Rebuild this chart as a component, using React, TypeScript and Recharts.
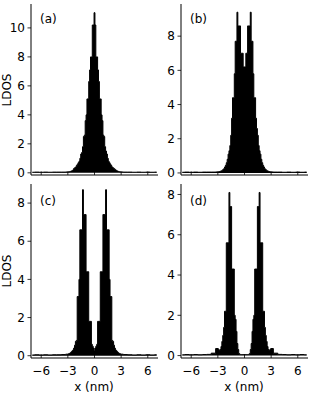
import React from 'react';
import { AreaChart, Area, XAxis, YAxis } from 'recharts';

// x positions (nm)
const X_NM = [
  -7.0, -6.5, -6.0, -5.5, -5.0, -4.5, -4.0, -3.5,
  -3.0, -2.9, -2.8, -2.7, -2.6, -2.5, -2.4, -2.3, -2.2, -2.1,
  -2.0, -1.9, -1.8, -1.7, -1.6, -1.5, -1.4, -1.3, -1.2, -1.1,
  -1.0, -0.9, -0.8, -0.7, -0.6, -0.5, -0.4, -0.3, -0.2, -0.1,
  0.0,
  0.1, 0.2, 0.3, 0.4, 0.5, 0.6, 0.7, 0.8, 0.9, 1.0,
  1.1, 1.2, 1.3, 1.4, 1.5, 1.6, 1.7, 1.8, 1.9, 2.0,
  2.1, 2.2, 2.3, 2.4, 2.5, 2.6, 2.7, 2.8, 2.9, 3.0,
  3.5, 4.0, 4.5, 5.0, 5.5, 6.0, 6.5, 7.0,
];

const LDOS_A = [
  0.04, 0.05, 0.04, 0.05, 0.04, 0.05, 0.05, 0.05,
  0.06, 0.07, 0.08, 0.1, 0.12, 0.15, 0.2, 0.3, 0.35, 0.4,
  0.5, 0.6, 0.7, 0.8, 1.0, 1.3, 1.4, 1.8, 2.5, 2.6,
  3.6, 4.0, 5.1, 5.1, 6.3, 7.1, 8.0, 8.0, 10.2, 10.2,
  11.05,
  10.2, 8.0, 8.0, 7.1, 6.3, 5.1, 5.1, 4.0, 3.6, 2.6,
  2.5, 1.8, 1.5, 1.3, 1.0, 0.8, 0.7, 0.6, 0.5, 0.4,
  0.35, 0.3, 0.25, 0.2, 0.15, 0.12, 0.1, 0.08, 0.07, 0.06,
  0.05, 0.05, 0.04, 0.05, 0.04, 0.05, 0.04, 0.05,
];

const LDOS_B = [
  0.04, 0.05, 0.04, 0.05, 0.04, 0.05, 0.05, 0.05,
  0.06, 0.07, 0.08, 0.1, 0.12, 0.15, 0.2, 0.25, 0.35, 0.45,
  0.6, 0.8, 1.1, 1.3, 1.6, 2.2, 3.2, 4.4, 4.4, 5.8,
  7.7, 7.7, 9.4, 8.6, 8.6, 8.6, 7.0, 7.0, 7.0, 6.2,
  6.2,
  6.2, 7.0, 7.0, 8.6, 8.6, 8.6, 9.4, 7.7, 7.7, 5.8,
  4.4, 4.4, 3.2, 2.6, 2.2, 1.6, 1.3, 1.1, 0.8, 0.6,
  0.45, 0.35, 0.25, 0.2, 0.15, 0.12, 0.1, 0.08, 0.07, 0.06,
  0.05, 0.05, 0.04, 0.05, 0.04, 0.05, 0.04, 0.05,
];

const LDOS_C = [
  0.04, 0.05, 0.04, 0.05, 0.04, 0.05, 0.05, 0.06,
  0.08, 0.1, 0.12, 0.15, 0.2, 0.25, 0.3, 0.4, 0.55, 0.75,
  0.8, 3.1, 3.1, 4.0, 6.6, 6.6, 6.6, 8.7, 7.4, 7.4,
  7.4, 4.4, 4.4, 4.4, 1.8, 1.8, 1.8, 0.6, 0.5, 0.4,
  0.25,
  0.4, 0.5, 0.6, 1.8, 1.8, 1.8, 4.4, 4.4, 4.4, 7.4,
  7.4, 7.4, 8.7, 6.6, 6.6, 6.6, 4.0, 3.1, 3.1, 0.8,
  0.75, 0.55, 0.4, 0.3, 0.25, 0.2, 0.15, 0.12, 0.1, 0.08,
  0.06, 0.05, 0.04, 0.05, 0.04, 0.05, 0.04, 0.05,
];

const LDOS_D = [
  0.04, 0.05, 0.04, 0.05, 0.04, 0.05, 0.06, 0.12,
  0.35, 0.3, 0.25, 0.3, 0.45, 0.7, 1.0, 1.4, 2.2, 2.2,
  5.6, 5.6, 5.6, 8.1, 7.4, 7.4, 4.3, 4.3, 4.3, 2.0,
  1.8, 1.2, 0.6, 0.3, 0.1, 0.06, 0.05, 0.05, 0.05, 0.05,
  0.05,
  0.05, 0.05, 0.05, 0.05, 0.06, 0.1, 0.3, 0.6, 1.2, 1.8,
  2.0, 4.3, 4.3, 4.3, 7.4, 7.4, 8.1, 5.6, 5.6, 5.6,
  2.2, 2.2, 1.4, 1.0, 0.7, 0.45, 0.3, 0.25, 0.3, 0.35,
  0.12, 0.06, 0.05, 0.04, 0.05, 0.04, 0.05, 0.04,
];

const X_TICKS = [-6, -3, 0, 3, 6];
const Y_TICKS_A = [0, 2, 4, 6, 8, 10];
const Y_TICKS_BCD = [0, 2, 4, 6, 8];
const PANEL_LABELS = ['(a)', '(b)', '(c)', '(d)'];
const Y_LABEL = 'LDOS';
const X_LABEL = 'x (nm)';

const X_DOMAIN: [number, number] = [-7.15, 7.15];
const FONT = "'DejaVu Sans', sans-serif";
const FS = 12;

function fmt(v: number): string {
  return v < 0 ? '\u2212' + Math.abs(v) : String(v);
}

function makeXTick(showLabel: boolean) {
  return (props: any) => {
    const { x, y, payload } = props;
    return (
      <g>
        <line x1={x} x2={x} y1={y} y2={y - 3.5} stroke="#000" strokeWidth={0.8} />
        {showLabel ? (
          <text x={x} y={y + 17} textAnchor="middle" fontSize={FS} fontFamily={FONT} fill="#000">
            {fmt(payload.value)}
          </text>
        ) : null}
      </g>
    );
  };
}

type PanelProps = {
  values: number[];
  yMin: number;
  yMax: number;
  yTicks: number[];
  left: number;
  top: number;
  bottomRow: boolean;
};

function Panel({ values, yMin, yMax, yTicks, left, top, bottomRow }: PanelProps) {
  const data = X_NM.map((x, i) => ({ x, ldos: values[i] }));
  const plotH = bottomRow ? 174 : 171;
  const xAxisH = bottomRow ? 30 : 2;
  const marginBottom = bottomRow ? 0 : 10;
  const height = 4 + plotH + xAxisH + marginBottom;
  return (
    <div style={{ position: 'absolute', left, top }}>
      <AreaChart width={160} height={height} data={data} margin={{ top: 4, right: 2, bottom: marginBottom, left: 0 }}>
        <XAxis
          xAxisId="b"
          type="number"
          dataKey="x"
          domain={X_DOMAIN}
          ticks={X_TICKS}
          interval={0}
          allowDataOverflow
          height={xAxisH}
          tickLine={false}
          tickSize={0}
          tickMargin={0}
          axisLine={{ stroke: '#000', strokeWidth: 1 }}
          tick={makeXTick(bottomRow)}
        />
        <XAxis
          xAxisId="t"
          orientation="top"
          type="number"
          dataKey="x"
          domain={X_DOMAIN}
          allowDataOverflow
          height={0}
          tick={false}
          tickLine={false}
          axisLine={{ stroke: '#000', strokeWidth: 1 }}
        />
        <YAxis
          yAxisId="l"
          type="number"
          domain={[yMin, yMax]}
          ticks={yTicks}
          interval={0}
          allowDataOverflow
          width={31}
          tickSize={3.5}
          tickMargin={2.5}
          tick={{ fontSize: FS, fill: '#000', fontFamily: FONT }}
          tickLine={{ stroke: '#000', strokeWidth: 0.8 }}
          axisLine={{ stroke: '#000', strokeWidth: 1 }}
        />
        <YAxis
          yAxisId="r"
          orientation="right"
          type="number"
          domain={[yMin, yMax]}
          allowDataOverflow
          width={0}
          tick={false}
          tickLine={false}
          axisLine={{ stroke: '#000', strokeWidth: 1 }}
        />
        <Area
          xAxisId="b"
          yAxisId="l"
          type="step"
          dataKey="ldos"
          stroke="#000"
          strokeWidth={1}
          fill="#000"
          fillOpacity={1}
          dot={false}
          activeDot={false}
          isAnimationActive={false}
        />
      </AreaChart>
    </div>
  );
}

export default function App() {
  const textStyle = { fontFamily: FONT, fontSize: FS, fill: '#000' } as const;
  return (
    <div style={{ position: 'absolute', left: 0, top: 0, width: 312, height: 401, background: '#fff', overflow: 'hidden' }}>
      <Panel values={LDOS_A} yMin={-0.15} yMax={11.65} yTicks={Y_TICKS_A} left={0} top={0} bottomRow={false} />
      <Panel values={LDOS_B} yMin={-0.12} yMax={9.88} yTicks={Y_TICKS_BCD} left={150} top={0} bottomRow={false} />
      <Panel values={LDOS_C} yMin={-0.12} yMax={9.0} yTicks={Y_TICKS_BCD} left={0} top={180} bottomRow={true} />
      <Panel values={LDOS_D} yMin={-0.12} yMax={8.52} yTicks={Y_TICKS_BCD} left={150} top={180} bottomRow={true} />
      <svg width={312} height={401} style={{ position: 'absolute', left: 0, top: 0, pointerEvents: 'none' }}>
        <text x={40} y={23} {...textStyle}>{PANEL_LABELS[0]}</text>
        <text x={190} y={23} {...textStyle}>{PANEL_LABELS[1]}</text>
        <text x={40} y={205} {...textStyle}>{PANEL_LABELS[2]}</text>
        <text x={190} y={205} {...textStyle}>{PANEL_LABELS[3]}</text>
        <text x={10.5} y={90} textAnchor="middle" transform="rotate(-90 10.5 90)" {...textStyle}>{Y_LABEL}</text>
        <text x={10.5} y={271} textAnchor="middle" transform="rotate(-90 10.5 271)" {...textStyle}>{Y_LABEL}</text>
        <text x={94} y={391} textAnchor="middle" {...textStyle}>{X_LABEL}</text>
        <text x={244} y={391} textAnchor="middle" {...textStyle}>{X_LABEL}</text>
      </svg>
    </div>
  );
}
